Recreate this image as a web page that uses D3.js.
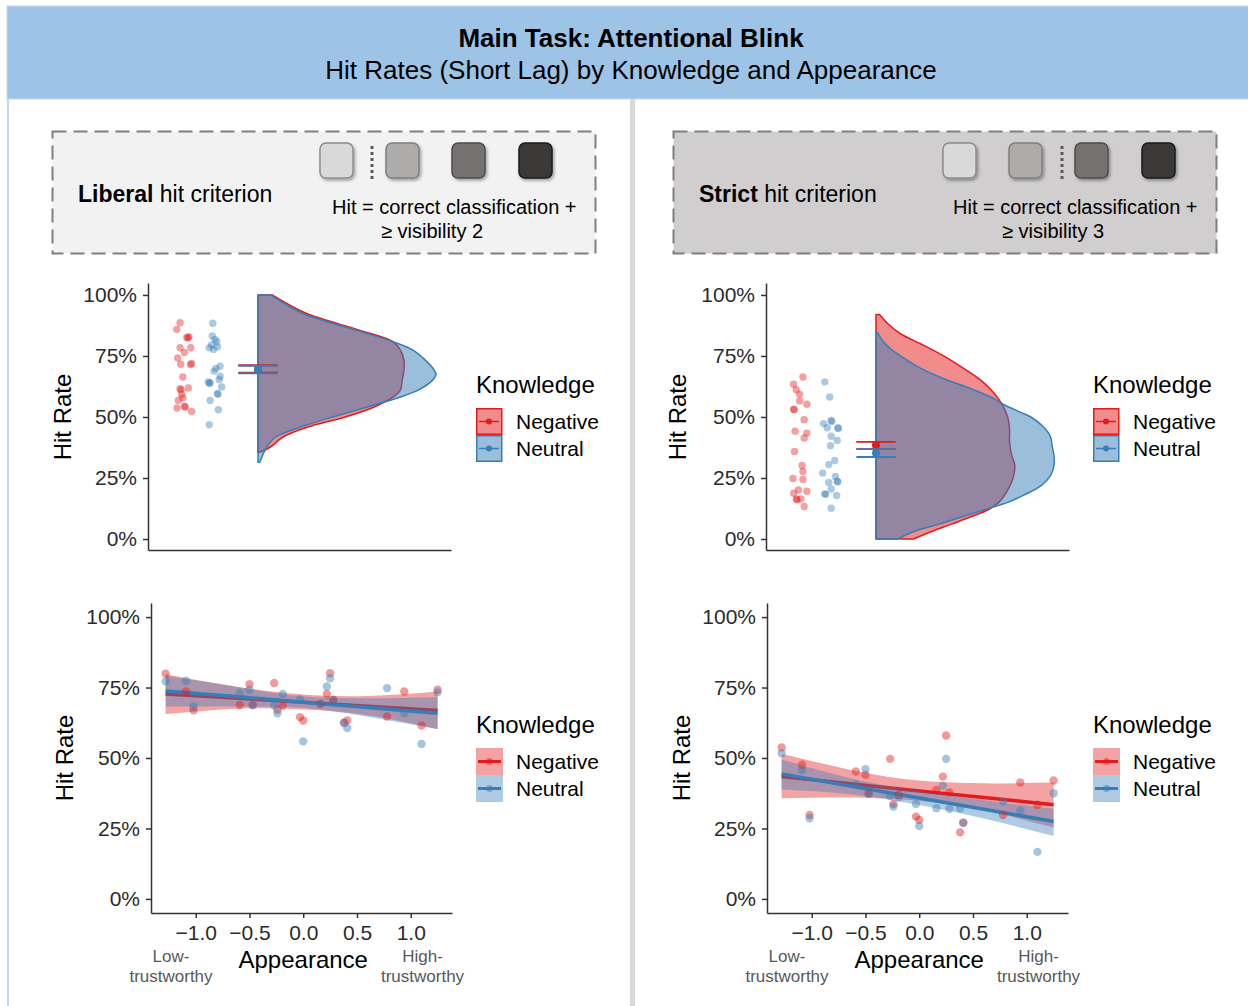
<!DOCTYPE html>
<html>
<head>
<meta charset="utf-8">
<script src="https://cdn.jsdelivr.net/npm/d3@7"></script>
<style>
  body { margin: 0; background: #fff; }
  svg { display: block; font-family: "Liberation Sans", Arial, Helvetica, sans-serif; }
</style>
</head>
<body>
<svg id="fig"></svg>
<script>
const width = 1248, height = 1006;

// Groups and scales
const knowledge = ["Negative", "Neutral"];
const palette = ["#e41a1c", "#377eb8"];
const rateTicks = [0, 25, 50, 75, 100];
const appearanceTicks = [-1, -0.5, 0, 0.5, 1];
const squareFills = ["#d9d9d9", "#aeabab", "#767171", "#3b3838"];
const squareStrokes = ["#8c8c8c", "#7f7f7f", "#4f4b4b", "#1a1a1a"];

// Raincloud points: [jitter position (0-100 of axis), hit rate %]
const libNegPts = [[10.6,88.6],[9.5,85.9],[12.8,82.6],[13.5,82.9],[13.2,82.4],[10.6,78.4],[14.1,78.4],[12.0,76.4],
  [9.8,74.2],[10.8,71.6],[14.4,71.9],[14.0,71.5],[11.5,66.4],[10.6,61.6],[10.9,61.2],[13.3,61.9],[11.1,59.2],
  [11.5,57.9],[10.0,56.8],[12.0,54.4],[12.3,54.1],[9.6,53.7],[14.4,52.3]];
const libNeuPts = [[21.4,88.4],[21.2,83.2],[22.1,81.8],[22.7,80.8],[21.0,79.5],[22.9,78.8],[20.2,78.4],[21.6,77.7],
  [23.8,70.8],[22.4,69.9],[21.8,68.8],[23.8,66.7],[23.5,65.3],[19.9,64.4],[20.5,64.0],[20.3,63.7],[24.3,62.3],
  [22.9,59.6],[23.1,59.3],[20.5,56.8],[23.2,53.0],[20.2,46.8]];
const strNegPts = [[12.2,66.4],[9.1,63.4],[10.0,61.2],[11.1,59.3],[11.1,56.6],[13.5,55.2],[9.1,53.2],[9.3,53.0],
  [12.6,48.9],[9.6,44.2],[13.5,43.4],[12.6,41.4],[9.4,35.9],[11.9,30.1],[12.2,27.7],[8.9,24.8],[12.2,24.4],
  [10.7,20.1],[13.5,19.6],[9.1,18.8],[10.0,16.4],[10.2,16.1],[11.5,16.4],[12.6,13.3]];
const strNeuPts = [[19.4,64.4],[21.0,58.2],[21.5,48.6],[21.7,48.2],[19.0,47.3],[20.2,45.6],[23.7,45.6],[23.9,45.3],
  [21.5,42.1],[23.5,40.4],[21.3,38.2],[22.7,32.2],[20.7,30.5],[18.7,27.0],[22.9,25.6],[20.7,23.2],[23.5,23.7],
  [23.7,23.4],[21.5,20.5],[19.4,18.5],[19.7,18.3],[23.3,17.8],[21.5,12.6]];

// Means with confidence limits [Negative, Neutral]
const libMeans = [69.5, 69.4], libLo = [68.2, 67.9], libHi = [71.2, 71.0];
const strMeans = [38.4, 35.2], strLo = [36.8, 33.6], strHi = [39.8, 36.8];

// Half-violin densities: [hit rate %, relative density]
const libNegDens = [[35.6,0.01],[37.7,0.07],[41.8,0.14],[45.9,0.28],[50,0.49],[54,0.65],[58.2,0.76],[61,0.8],
  [65,0.81],[69.2,0.82],[73.3,0.82],[77.4,0.8],[80.8,0.76],[85.6,0.57],[92.5,0.27],[100,0.08]];
const libNeuDens = [[31.5,0.01],[35,0.03],[37.7,0.05],[41.8,0.1],[45.9,0.24],[50,0.42],[54,0.61],[58.2,0.8],
  [61,0.9],[65,0.98],[67.4,1.0],[69.2,0.99],[73.3,0.94],[77.4,0.87],[80.8,0.76],[85.6,0.55],[92.5,0.25],[100,0.07]];
const strNegDens = [[0,0.21],[3,0.31],[6,0.42],[9,0.53],[12,0.63],[15,0.69],[20,0.74],[25,0.77],[30,0.78],
  [35,0.76],[40,0.75],[45,0.75],[50,0.74],[55,0.71],[60,0.66],[65,0.59],[70,0.49],[75,0.38],[80,0.25],
  [84,0.14],[88,0.07],[92,0.02]];
const strNeuDens = [[0,0.12],[3,0.21],[6,0.35],[9,0.48],[12,0.61],[15,0.74],[18,0.83],[22,0.93],[26,0.98],
  [30,1.0],[34,1.0],[38,0.99],[42,0.98],[46,0.94],[50,0.87],[52,0.81],[55,0.72],[58,0.65],[62,0.52],
  [66,0.37],[70,0.25],[74,0.16],[78,0.08],[82,0.03],[84.5,0.01]];

// Appearance scatter
const appearance = [-1.28, -1.09, -1.02, -0.59, -0.50, -0.47, -0.27, -0.24, -0.19, -0.03, 0.00,
  0.16, 0.22, 0.25, 0.28, 0.38, 0.41, 0.78, 0.94, 1.10, 1.25];
const libNegRates = [79.9, 73.6, 66.9, 68.8, 76.2, 68.8, 76.6, 67.1, 68.5, 64.5, 63.3,
  69.2, 72.7, 80.1, 70.7, 62.4, 63.3, 64.7, 73.6, 61.5, 74.2];
const libNeuRates = [77.2, 77.4, 68.3, 73.0, 74.2, 68.8, 68.6, 65.9, 72.7, 70.9, 55.9,
  69.1, 75.4, 78.3, 70.4, 62.6, 60.6, 74.8, 65.9, 55.0, 73.3];
const strNegRates = [53.7, 47.6, 29.8, 45.2, 44.0, 37.5, 49.7, 33.7, 36.9, 29.2, 28.0,
  38.7, 43.4, 58.0, 37.8, 23.6, 27.1, 29.8, 41.3, 33.4, 42.0];
const strNeuRates = [51.7, 45.6, 28.6, 40.5, 46.0, 37.3, 36.6, 32.8, 36.1, 33.7, 25.9,
  32.2, 40.2, 49.7, 32.0, 32.2, 26.9, 34.6, 31.4, 16.7, 37.5];

// Fitted lines and bands
const bandX = [-1.28, -0.6, 0, 0.6, 1.25];
const libNegFit = [72.7, 71.2, 69.8, 68.4, 66.9];
const libNegLo = [65.6, 67.5, 67.2, 65.2, 60.3];
const libNegHi = [79.7, 75.2, 72.5, 72.0, 73.6];
const libNeuFit = [73.8, 71.7, 69.8, 67.9, 65.9];
const libNeuLo = [68.3, 68.3, 67.8, 64.6, 60.2];
const libNeuHi = [79.2, 75.1, 71.8, 71.2, 71.6];
const strNegFit = [43.4, 40.7, 38.3, 36.0, 33.4];
const strNegLo = [35.7, 36.0, 34.8, 31.5, 25.3];
const strNegHi = [51.5, 45.5, 42.0, 41.0, 41.3];
const strNeuFit = [44.3, 39.8, 35.8, 31.8, 27.5];
const strNeuLo = [38.8, 37.0, 33.3, 28.5, 22.3];
const strNeuHi = [49.5, 42.5, 38.3, 35.0, 32.0];

const svg = d3.select("#fig").attr("width", width).attr("height", height);

const defs = svg.append("defs");
defs.append("filter").attr("id", "shadow")
    .attr("x", "-30%").attr("y", "-30%").attr("width", "160%").attr("height", "160%")
  .append("feDropShadow")
    .attr("dx", 1.5).attr("dy", 2).attr("stdDeviation", 1.5)
    .attr("flood-color", "#000").attr("flood-opacity", 0.35);

// Header and panel frame
svg.append("rect").attr("x", 7).attr("y", 6).attr("width", 1242).attr("height", 93)
    .attr("fill", "#9dc3e6").attr("stroke", "#c5dcf0").attr("stroke-width", 1);
svg.append("line").attr("x1", 8).attr("x2", 8).attr("y1", 99).attr("y2", height)
    .attr("stroke", "#bdd7ee").attr("stroke-width", 2);
svg.append("rect").attr("x", 630).attr("y", 99).attr("width", 5).attr("height", height - 99)
    .attr("fill", "#d9d9d9");

svg.append("text").attr("x", 631).attr("y", 47).attr("text-anchor", "middle")
    .attr("font-size", 26).attr("font-weight", "bold").attr("fill", "#000")
    .text("Main Task: Attentional Blink");
svg.append("text").attr("x", 631).attr("y", 79).attr("text-anchor", "middle")
    .attr("font-size", 26).attr("fill", "#000")
    .text("Hit Rates (Short Lag) by Knowledge and Appearance");

// Criterion boxes
function criterionBox(x0, fill, boldWord, squaresX, dotX, visLevel) {
  const g = svg.append("g");
  g.append("rect").attr("x", x0 + 0.5).attr("y", 131.5).attr("width", 543).attr("height", 122)
    .attr("fill", fill).attr("stroke", "#7f7f7f").attr("stroke-width", 2)
    .attr("stroke-dasharray", "14,7");
  squaresX.forEach((sx, i) => {
    g.append("rect").attr("x", sx).attr("y", 143).attr("width", 33).attr("height", 35).attr("rx", 6)
      .attr("fill", squareFills[i]).attr("stroke", squareStrokes[i]).attr("stroke-width", 1.5)
      .attr("filter", "url(#shadow)");
  });
  g.append("line").attr("x1", dotX).attr("x2", dotX).attr("y1", 146).attr("y2", 180)
    .attr("stroke", "#595959").attr("stroke-width", 3).attr("stroke-dasharray", "3,3");
  const t = g.append("text").attr("x", x0 + 26).attr("y", 202).attr("font-size", 23).attr("fill", "#000");
  t.append("tspan").attr("font-weight", "bold").text(boldWord);
  t.append("tspan").text(" hit criterion");
  g.append("text").attr("x", x0 + 280).attr("y", 214).attr("font-size", 20).attr("fill", "#000")
    .text("Hit = correct classification +");
  g.append("text").attr("x", x0 + 329).attr("y", 238).attr("font-size", 20).attr("fill", "#000")
    .text("\u2265 visibility " + visLevel);
}
criterionBox(52, "#f2f2f2", "Liberal", [320, 386, 452, 519], 372, 2);
criterionBox(673, "#d0cece", "Strict", [943, 1009, 1075, 1142], 1062, 3);

function styleAxis(a) {
  a.select(".domain").attr("stroke", "#333").attr("stroke-width", 1.5);
  a.selectAll(".tick line").attr("stroke", "#333").attr("stroke-width", 1.5);
  a.selectAll(".tick text").attr("fill", "#2b2b2b").attr("font-size", 21)
    .attr("font-family", "Liberation Sans, Arial, sans-serif");
}

function yLabel(x, y) {
  svg.append("text").attr("transform", `translate(${x},${y}) rotate(-90)`)
    .attr("text-anchor", "middle").attr("dominant-baseline", "central")
    .attr("font-size", 24).attr("fill", "#000").text("Hit Rate");
}

function legend(x, ty, kind) {
  const g = svg.append("g");
  g.append("text").attr("x", x).attr("y", ty).attr("font-size", 24).attr("fill", "#000").text("Knowledge");
  knowledge.forEach((k, i) => {
    const ky = ty + 15 + i * 27;
    const key = g.append("g");
    if (kind === "violin") {
      key.append("rect").attr("x", x + 0.75).attr("y", ky + 0.75).attr("width", 25).attr("height", 25.5)
        .attr("fill", palette[i]).attr("fill-opacity", 0.5)
        .attr("stroke", palette[i]).attr("stroke-width", 1.5);
      key.append("line").attr("x1", x + 3).attr("x2", x + 23).attr("y1", ky + 13.5).attr("y2", ky + 13.5)
        .attr("stroke", palette[i]).attr("stroke-width", 1.5);
      key.append("circle").attr("cx", x + 13).attr("cy", ky + 13.5).attr("r", 3).attr("fill", palette[i]);
    } else {
      key.append("rect").attr("x", x).attr("y", ky).attr("width", 27).attr("height", 27)
        .attr("fill", palette[i]).attr("fill-opacity", 0.4);
      key.append("line").attr("x1", x + 2).attr("x2", x + 25).attr("y1", ky + 13.5).attr("y2", ky + 13.5)
        .attr("stroke", palette[i]).attr("stroke-width", 3);
      key.append("circle").attr("cx", x + 13.5).attr("cy", ky + 13.5).attr("r", 3.5)
        .attr("fill", palette[i]).attr("fill-opacity", 0.5);
    }
    g.append("text").attr("x", x + 40).attr("y", ky + 13.5).attr("dominant-baseline", "central")
      .attr("font-size", 21).attr("fill", "#000").text(k);
  });
}

// Raincloud panel (top row)
function rainPanel(ox, pts, dens, means, lo, hi) {
  const g = svg.append("g");
  const x = d3.scaleLinear().domain([0, 100]).range([ox, ox + 303]);
  const y = d3.scaleLinear().domain([-4.5, 104.9]).range([550, 283]);
  const w = d3.scaleLinear().domain([0, 1]).range([0, 178]);
  const base = 36.3;

  dens.forEach((dd, i) => {
    const area = d3.area().curve(d3.curveCatmullRom)
      .y(d => y(d[0])).x0(x(base)).x1(d => x(base) + w(d[1]));
    g.append("path").datum(dd).attr("d", area)
      .attr("fill", palette[i]).attr("fill-opacity", 0.5)
      .attr("stroke", palette[i]).attr("stroke-width", 1.5).attr("stroke-linejoin", "round");
  });

  pts.forEach((pp, i) => {
    g.append("g").selectAll("circle").data(pp).join("circle")
      .attr("cx", d => x(d[0])).attr("cy", d => y(d[1])).attr("r", 3.7)
      .attr("fill", palette[i]).attr("fill-opacity", 0.42);
  });

  means.forEach((m, i) => {
    const c = palette[i];
    g.append("line").attr("x1", x(base)).attr("x2", x(base)).attr("y1", y(lo[i])).attr("y2", y(hi[i]))
      .attr("stroke", c).attr("stroke-width", 1.5);
    [lo[i], hi[i]].forEach(v => {
      g.append("line").attr("x1", x(base - 6.5)).attr("x2", x(base + 6.5)).attr("y1", y(v)).attr("y2", y(v))
        .attr("stroke", c).attr("stroke-width", 1.8);
    });
    g.append("circle").attr("cx", x(base)).attr("cy", y(m)).attr("r", 4).attr("fill", c);
  });

  const ya = g.append("g").attr("transform", `translate(${ox},0)`)
    .call(d3.axisLeft(y).tickValues(rateTicks).tickFormat(d => d + "%").tickSize(5).tickPadding(6).tickSizeOuter(0));
  styleAxis(ya);
  const xa = g.append("g").attr("transform", "translate(0,550)")
    .call(d3.axisBottom(x).tickValues([]).tickSizeOuter(0));
  styleAxis(xa);
}

// Appearance panel (bottom row)
function smoothPanel(ox, rates, fits, los, his) {
  const g = svg.append("g");
  const x = d3.scaleLinear().domain([-1.416, 1.384]).range([ox, ox + 301]);
  const y = d3.scaleLinear().domain([-5, 105]).range([913, 603]);

  rates.forEach((r, i) => {
    const band = d3.area().curve(d3.curveNatural)
      .x((d, j) => x(bandX[j])).y0((d, j) => y(los[i][j])).y1((d, j) => y(his[i][j]));
    g.append("path").datum(bandX).attr("d", band)
      .attr("fill", palette[i]).attr("fill-opacity", 0.4);
    const line = d3.line().x((d, j) => x(bandX[j])).y(d => y(d));
    g.append("path").datum(fits[i]).attr("d", line)
      .attr("fill", "none").attr("stroke", palette[i]).attr("stroke-width", 3.5);
  });

  rates.forEach((r, i) => {
    g.append("g").selectAll("circle").data(r).join("circle")
      .attr("cx", (d, j) => x(appearance[j])).attr("cy", d => y(d)).attr("r", 4.2)
      .attr("fill", palette[i]).attr("fill-opacity", 0.45);
  });

  const ya = g.append("g").attr("transform", `translate(${ox},0)`)
    .call(d3.axisLeft(y).tickValues(rateTicks).tickFormat(d => d + "%").tickSize(5).tickPadding(6).tickSizeOuter(0));
  styleAxis(ya);
  const xa = g.append("g").attr("transform", "translate(0,913)")
    .call(d3.axisBottom(x).tickValues(appearanceTicks).tickFormat(d3.format(".1f")).tickSize(5).tickPadding(7).tickSizeOuter(0));
  styleAxis(xa);

  const cx = x(0);
  g.append("text").attr("x", cx).attr("y", 968).attr("text-anchor", "middle")
    .attr("font-size", 24).attr("fill", "#000").text("Appearance");
  [["Low-", "trustworthy", x(-1.23)], ["High-", "trustworthy", x(1.11)]].forEach(l => {
    const t = g.append("text").attr("text-anchor", "middle").attr("font-size", 17).attr("fill", "#595959");
    t.append("tspan").attr("x", l[2]).attr("y", 962).text(l[0]);
    t.append("tspan").attr("x", l[2]).attr("y", 982).text(l[1]);
  });
}

rainPanel(148, [libNegPts, libNeuPts], [libNegDens, libNeuDens], libMeans, libLo, libHi);
rainPanel(766, [strNegPts, strNeuPts], [strNegDens, strNeuDens], strMeans, strLo, strHi);
smoothPanel(151, [libNegRates, libNeuRates], [libNegFit, libNeuFit], [libNegLo, libNeuLo], [libNegHi, libNeuHi]);
smoothPanel(767, [strNegRates, strNeuRates], [strNegFit, strNeuFit], [strNegLo, strNeuLo], [strNegHi, strNeuHi]);

yLabel(62, 417);
yLabel(677, 417);
yLabel(64, 758);
yLabel(681, 758);

legend(476, 393, "violin");
legend(1093, 393, "violin");
legend(476, 733, "smooth");
legend(1093, 733, "smooth");
</script>
</body>
</html>
